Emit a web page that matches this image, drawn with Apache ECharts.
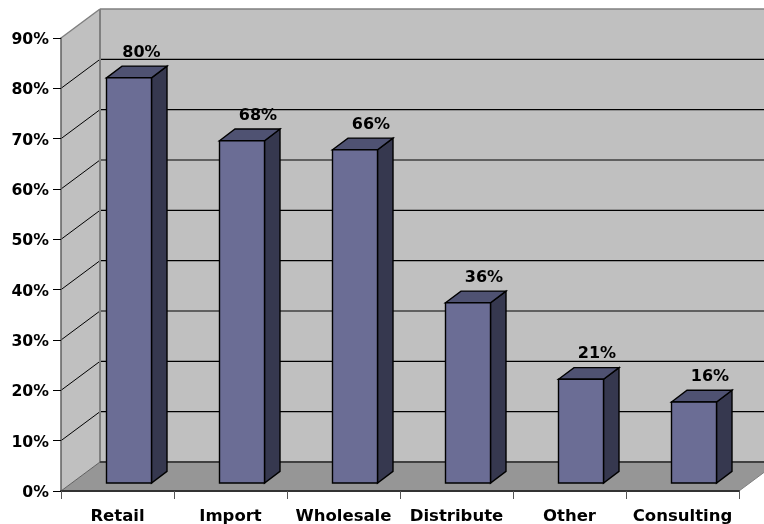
<!DOCTYPE html>
<html>
<head>
<meta charset="utf-8">
<style>html,body{margin:0;padding:0;background:#fff}#c{width:764px;height:524px}</style>
<script src="https://cdn.jsdelivr.net/npm/echarts@6/dist/echarts.min.js"></script>
</head>
<body>
<div id="c"></div>
<script>
const categories = ['Retail', 'Import', 'Wholesale', 'Distribute', 'Other', 'Consulting'];
const barHeights = [80.5, 68, 66.2, 35.8, 20.6, 16.1];
const valueLabels = ['80%', '68%', '66%', '36%', '21%', '16%'];
const yTicks = [0, 10, 20, 30, 40, 50, 60, 70, 80, 90];

const FONT = '"DejaVu Sans", Verdana, sans-serif';
const WALL_DX = 39, WALL_DY = -29;
const BAR_DX = 11.5, BAR_DY = -8, BAR_W = 45, SIDE_DX = 15.5, SIDE_DY = -11.7;

function poly(points, fill, stroke, lw) {
  return { type: 'polygon', shape: { points }, style: { fill, stroke: stroke || 'none', lineWidth: lw || 0 } };
}
function line(x1, y1, x2, y2, stroke, lw) {
  return { type: 'line', shape: { x1, y1, x2, y2 }, style: { stroke, lineWidth: lw || 1 } };
}

function renderWalls(params, api) {
  const cs = params.coordSys;
  const L = cs.x, R = cs.x + cs.width, T = cs.y, B = cs.y + cs.height;
  const bl = L + WALL_DX, br = R + WALL_DX, bt = T + WALL_DY, bb = B + WALL_DY;
  const kids = [
    poly([[bl, bt], [br, bt], [br, bb], [bl, bb]], '#c0c0c0'),
    poly([[L, T], [bl, bt], [bl, bb], [L, B]], '#c0c0c0'),
    poly([[L, B], [bl, bb], [br, bb], [R, B]], '#969696')
  ];
  yTicks.forEach(function (v) {
    const y = api.coord([0, v])[1];
    if (v === 0 || v === yTicks[yTicks.length - 1]) return;
    kids.push(line(L, y, bl, y + WALL_DY, '#000', 1));
    kids.push(line(bl, y + WALL_DY, br, y + WALL_DY, '#000', 1.2));
  });
  kids.push(line(L, T, bl, bt, '#808080', 1.5));
  kids.push(line(bl, bt, br, bt, '#808080', 1.5));
  kids.push(line(bl, bt, bl, bb, '#808080', 2));
  kids.push(line(L, B, bl, bb, '#606060', 1));
  kids.push(line(bl, bb, br, bb, '#404040', 2));
  kids.push(line(R, B, br, bb, '#808080', 1));
  return { type: 'group', children: kids };
}

function renderBar(params, api) {
  const i = api.value(0), v = api.value(1);
  const top = api.coord([i, v]);
  const base = api.coord([i, 0]);
  const x0 = top[0] + BAR_DX - BAR_W / 2, x1 = x0 + BAR_W;
  const yt = top[1] + BAR_DY, yb = base[1] + BAR_DY;
  const lw = 1.4;
  return {
    type: 'group',
    children: [
      poly([[x1, yt], [x1 + SIDE_DX, yt + SIDE_DY], [x1 + SIDE_DX, yb + SIDE_DY], [x1, yb]], '#36384f', '#000', lw),
      poly([[x0, yt], [x0 + SIDE_DX, yt + SIDE_DY], [x1 + SIDE_DX, yt + SIDE_DY], [x1, yt]], '#4f5272', '#000', lw),
      poly([[x0, yt], [x1, yt], [x1, yb], [x0, yb]], '#6b6d95', '#000', lw),
      {
        type: 'text',
        style: {
          x: (x0 + x1) / 2 + (params.dataIndex === 0 ? 12.5 : 16), y: yt - 25,
          text: valueLabels[params.dataIndex],
          font: 'bold 16px ' + FONT,
          fill: '#000', align: 'center', verticalAlign: 'middle'
        }
      }
    ]
  };
}

const chart = echarts.init(document.getElementById('c'), null, { renderer: 'canvas', width: 764, height: 524 });
chart.setOption({
  animation: false,
  backgroundColor: '#ffffff',
  grid: { left: 61, top: 38, width: 678, height: 453, containLabel: false, outerBoundsMode: 'none' },
  xAxis: {
    type: 'category',
    data: categories,
    z: 6,
    axisLine: { show: true, lineStyle: { color: '#333', width: 2 } },
    axisTick: { show: true, alignWithLabel: false, length: 8, lineStyle: { color: '#555', width: 1 } },
    axisLabel: { interval: 0, margin: 17, color: '#000', fontFamily: FONT, fontWeight: 'bold', fontSize: 16.5 },
    splitLine: { show: false }
  },
  yAxis: {
    type: 'value',
    min: 0, max: 90, interval: 10,
    z: 6,
    axisLine: { show: true, lineStyle: { color: '#606060', width: 1.5 } },
    axisTick: { show: true, length: 8, lineStyle: { color: '#000', width: 1 } },
    axisLabel: {
      margin: 12,
      formatter: '{t|{value}%}',
      rich: { t: { color: '#000', fontFamily: FONT, fontWeight: 'bold', fontSize: 15.7, padding: [4, 0, 0, 0] } }
    },
    splitLine: { show: false }
  },
  series: [
    { type: 'custom', z: 1, silent: true, renderItem: renderWalls, data: [[0, 0]], encode: { x: 0, y: 1 } },
    { type: 'custom', z: 8, silent: true, renderItem: renderBar, data: barHeights.map(function (v, i) { return [i, v]; }), encode: { x: 0, y: 1 } }
  ]
});
</script>
</body>
</html>
